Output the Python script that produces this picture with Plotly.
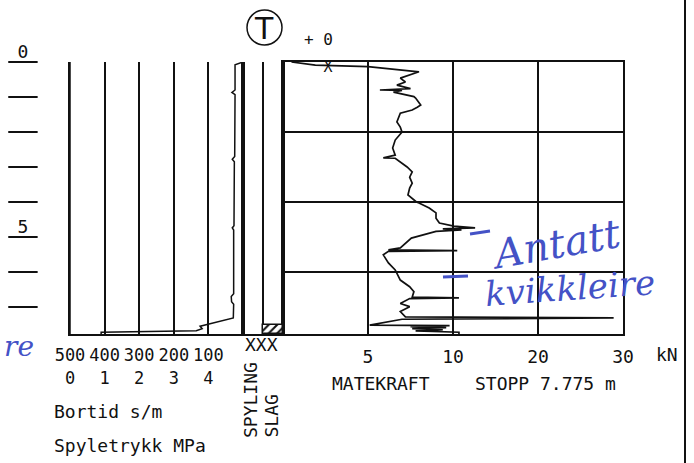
import numpy as np
import plotly.graph_objects as go

W, H = 694, 463

# ---- Matekraft (kN) against depth (m) ----
mk_depth = [0.00, 0.09, 0.13, 0.28, 0.46, 0.57, 0.66, 0.74, 0.76, 0.80, 0.81, 0.86,
            0.99, 1.03, 1.23, 1.29, 1.37, 1.46, 1.71, 1.86, 2.00, 2.23, 2.46, 2.66,
            2.74, 2.75, 2.86, 3.00, 3.14, 3.29, 3.46, 3.60, 3.80, 4.00, 4.03, 4.17,
            4.31, 4.46, 4.60, 4.69, 4.74, 4.77, 4.80, 4.84, 5.03, 5.31, 5.37, 5.39,
            5.41, 5.51, 5.74, 5.94, 6.23, 6.42, 6.56, 6.72, 6.74, 6.76, 6.90, 6.99,
            7.13, 7.28, 7.31, 7.35, 7.52, 7.53, 7.56, 7.59, 7.62, 7.65, 7.68, 7.72,
            7.775]
mk_force = [0.5, 1.9, 5.0, 8.0, 6.9, 7.2, 6.7, 7.3, 7.5, 5.7, 7.0, 6.5,
            7.7, 7.8, 8.1, 7.9, 7.6, 6.9, 6.7, 6.9, 7.0, 6.6, 6.45, 6.6,
            5.9, 6.6, 6.9, 7.3, 7.6, 7.45, 7.6, 7.45, 7.35, 7.85, 8.0, 8.6,
            9.0, 9.0, 9.2, 10.1, 12.6, 9.4, 11.0, 9.0, 7.55, 6.9, 6.2, 10.5,
            6.2, 5.9, 6.2, 6.6, 6.9, 7.45, 7.7, 7.6, 10.7, 7.45, 6.9, 7.45,
            6.9, 7.2, 28.9, 7.0, 5.1, 9.8, 7.5, 9.6, 7.6, 9.4, 7.8, 10.7,
            10.7]

# ---- Bortid (s/m) against depth (m) ----
bt_depth = [0.00, 0.08, 0.80, 0.87, 0.93, 2.70, 2.78, 2.85, 4.68, 4.74, 4.80,
            6.62, 6.70, 6.85, 6.92, 7.31, 7.55, 7.62, 7.68, 7.72, 7.775]
bt_value = [0, 23, 23, 32, 23, 24, 31, 25, 26, 31, 27,
            27, 34, 33, 27, 28, 124, 118, 135, 410, 410]

# ---- Spyletrykk (MPa) against depth (m) ----
sp_depth = [0.0, 7.775]
sp_value = [0.0, 0.0]

# ---- Slag (hammering) interval and stop depth (m) ----
slag_top = 7.50
slag_bottom = 7.775
stop_depth = 7.775

# ---- Axis ticks ----
force_breaks = [0, 5, 10, 20, 30]
force_ticks = [5, 10, 20, 30]
bortid_ticks = [500, 400, 300, 200, 100]
pressure_ticks = [0, 1, 2, 3, 4]
depth_marks = [0, 1, 2, 3, 4, 5, 6, 7]
depth_labelled = [0, 5]

INK = "#111111"
BLUE = "#4452c6"
FONT = "DejaVu Sans Mono"
FS = 18


def force_pos(f):
    """Piecewise-linear force scale: each grid column is one unit."""
    return np.interp(f, force_breaks, np.arange(len(force_breaks)))


def px(x):
    return x / W


def py(y):
    return 1 - y / H


depth_range = [7.771, 0]
y_dom = [py(334), py(62)]

fig = go.Figure()

# Main sounding curve
fig.add_trace(go.Scatter(x=force_pos(mk_force), y=mk_depth, mode="lines",
                         line=dict(color=INK, width=1.7), xaxis="x", yaxis="y",
                         hoverinfo="skip"))
# Ground level marker
fig.add_trace(go.Scatter(x=[force_pos(2.65)], y=[0.17], mode="text", text=["X"],
                         textfont=dict(family=FONT, size=15, color=INK),
                         xaxis="x", yaxis="y", hoverinfo="skip"))

# Bortid curve
fig.add_trace(go.Scatter(x=bt_value, y=bt_depth, mode="lines",
                         line=dict(color=INK, width=1.5), xaxis="x2", yaxis="y2",
                         hoverinfo="skip"))
# Spyletrykk curve
fig.add_trace(go.Scatter(x=sp_value, y=sp_depth, mode="lines",
                         line=dict(color=INK, width=1.5), xaxis="x4", yaxis="y2",
                         hoverinfo="skip"))

# Depth scale: metre dashes and labels
fig.add_trace(go.Scatter(x=[0.45] * len(depth_marks), y=depth_marks, mode="markers",
                         marker=dict(symbol="line-ew", size=21,
                                     line=dict(color=INK, width=2)),
                         cliponaxis=False,
                         xaxis="x3", yaxis="y3", hoverinfo="skip"))
fig.add_trace(go.Scatter(x=[0.45] * len(depth_labelled), y=depth_labelled, mode="text",
                         text=[str(d) for d in depth_labelled],
                         textposition="top center", cliponaxis=False,
                         textfont=dict(family=FONT, size=FS, color=INK),
                         xaxis="x3", yaxis="y3", hoverinfo="skip"))

# Slag column: hatched interval
fig.add_trace(go.Bar(x=[1.5], y=[slag_bottom - slag_top], base=[slag_top], width=[1],
                     marker=dict(color="white", line=dict(color=INK, width=1.5),
                                 pattern=dict(shape="/", fgcolor=INK, bgcolor="white",
                                              size=6, solidity=0.35)),
                     xaxis="x5", yaxis="y5", hoverinfo="skip"))

axis_common = dict(zeroline=False, fixedrange=True, automargin=False)

layout = dict(
    template="none",
    width=W, height=H, autosize=False,
    margin=dict(l=0, r=0, t=0, b=0, pad=0),
    paper_bgcolor="white", plot_bgcolor="rgba(0,0,0,0)",
    showlegend=False,
    font=dict(family=FONT, size=FS, color=INK),
    # main chart
    xaxis=dict(domain=[px(283), px(623)], range=[0, 4], anchor="y",
               tickvals=force_pos(force_ticks).tolist(),
               ticktext=[str(t) for t in force_ticks],
               showgrid=True, gridcolor=INK, gridwidth=2,
               showline=True, mirror=True, linecolor=INK, linewidth=2,
               ticks="", ticklabelstandoff=5,
               tickfont=dict(family=FONT, size=FS, color=INK), **axis_common),
    yaxis=dict(domain=y_dom, range=depth_range, anchor="x",
               tickvals=[2, 4, 6], showticklabels=False,
               showgrid=True, gridcolor=INK, gridwidth=2,
               showline=True, mirror=True, linecolor=INK, linewidth=2,
               ticks="", **axis_common),
    # bortid panel
    xaxis2=dict(domain=[px(70), px(243)], range=[500, 0], anchor="y2",
                tickvals=bortid_ticks, ticktext=[str(t) for t in bortid_ticks],
                showgrid=True, gridcolor=INK, gridwidth=2,
                showline=True, mirror=False, linecolor=INK, linewidth=2,
                ticks="", ticklabelstandoff=5,
                tickfont=dict(family=FONT, size=17, color=INK), **axis_common),
    yaxis2=dict(domain=y_dom, range=depth_range, anchor="x2",
                showgrid=False, showticklabels=False,
                showline=True, mirror=True, linecolor=INK, linewidth=2,
                ticks="", **axis_common),
    # spyletrykk scale (second label row under the bortid panel)
    xaxis4=dict(domain=[px(70), px(243)], range=[0, 5], overlaying="x2",
                anchor="free", position=py(364), side="bottom",
                tickvals=pressure_ticks, ticktext=[str(t) for t in pressure_ticks],
                showgrid=False, showline=False, ticks="", ticklabelstandoff=2,
                tickfont=dict(family=FONT, size=17, color=INK), **axis_common),
    # depth scale
    xaxis3=dict(domain=[0, px(51)], range=[0, 1], anchor="y3", visible=False,
                **axis_common),
    yaxis3=dict(domain=y_dom, range=depth_range, anchor="x3", visible=False,
                **axis_common),
    # spyling / slag columns
    xaxis5=dict(domain=[px(243), px(283)], range=[0, 2], anchor="y5",
                tickvals=[1], showticklabels=False, showgrid=True,
                gridcolor=INK, gridwidth=2,
                showline=True, mirror=False, linecolor=INK, linewidth=2,
                ticks="", **axis_common),
    yaxis5=dict(domain=y_dom, range=depth_range, anchor="x5",
                showgrid=False, showticklabels=False,
                showline=True, mirror=True, linecolor=INK, linewidth=2,
                ticks="", **axis_common),
    bargap=0,
)
fig.update_layout(**layout)


def note(text, x, y, size=FS, xanchor="center", yanchor="middle", angle=0,
         color=INK, family=FONT, italic=False):
    fig.add_annotation(text=text, x=px(x), y=py(y), xref="paper", yref="paper",
                       showarrow=False, xanchor=xanchor, yanchor=yanchor,
                       textangle=angle,
                       font=dict(family=family, size=size, color=color,
                                 style="italic" if italic else "normal"))


note("Bortid s/m", 52, 411, xanchor="left")
note("Spyletrykk MPa", 52, 445, xanchor="left")
note("XXX", 261, 344)
note("SPYLING", 250, 440, angle=-90, yanchor="bottom")
note("SLAG", 271, 440, angle=-90, yanchor="bottom")
note("kN", 667, 354)
note("MATEKRAFT", 381, 383)
note(f"STOPP {stop_depth:.3f} m", 545, 383)
note("+ 0", 318, 40, size=16)
note("T", 264, 28, size=30, family="DejaVu Sans")

# Handwritten remarks
note("Antatt", 556, 244, size=40, color=BLUE, family="DejaVu Serif", italic=True, angle=-10)
note("kvikkleire", 570, 288, size=34, color=BLUE, family="DejaVu Serif", italic=True, angle=-4)
note("re", 2, 346, size=28, color=BLUE, family="DejaVu Serif", italic=True,
     xanchor="left")

shapes = [
    dict(type="circle", xref="paper", yref="paper",
         x0=px(247), x1=px(282), y0=py(45), y1=py(10),
         line=dict(color=INK, width=1.5)),
    dict(type="line", xref="paper", yref="paper",
         x0=px(685), x1=px(685), y0=0, y1=1, line=dict(color=INK, width=2)),
    dict(type="line", xref="paper", yref="paper",
         x0=px(470), x1=px(490), y0=py(234), y1=py(231),
         line=dict(color=BLUE, width=3)),
    dict(type="line", xref="paper", yref="paper",
         x0=px(443), x1=px(468), y0=py(277), y1=py(276),
         line=dict(color=BLUE, width=3)),
]
fig.update_layout(shapes=shapes)

fig.write_html("out.html")
